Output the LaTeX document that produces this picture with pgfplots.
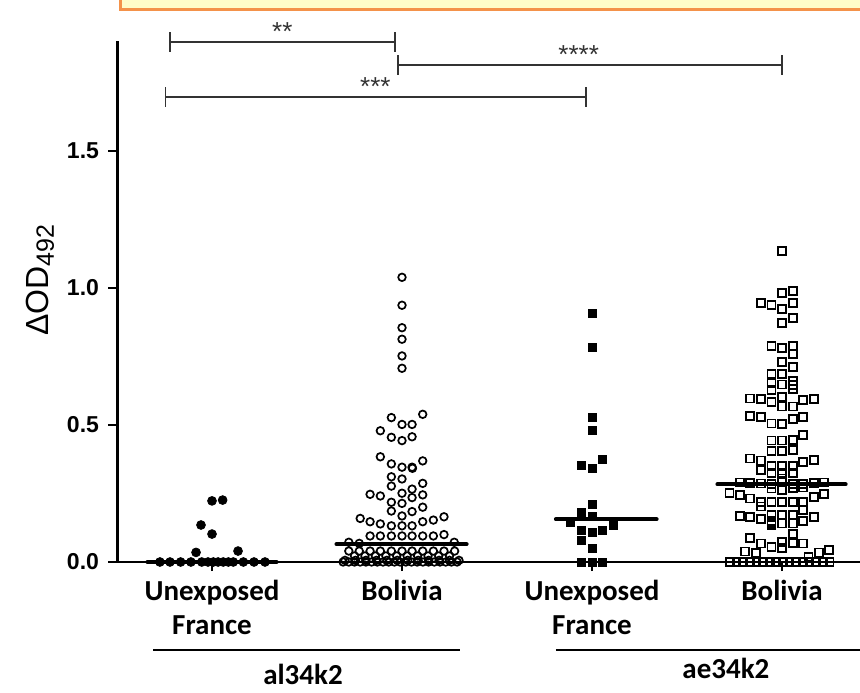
\documentclass[border=0pt]{standalone}
\usepackage{pgfplots}
\pgfplotsset{compat=1.18}
\usepackage{fontspec}
\setmainfont{Liberation Sans}
\newfontfamily\calfont{Carlito}
\definecolor{boxfill}{RGB}{255,252,200}
\definecolor{boxedge}{RGB}{244,146,74}
\begin{document}
\begin{tikzpicture}
\begin{axis}[
  x=95pt, y=137pt,
  xmin=-0.5, xmax=3.41, ymin=0, ymax=1.9,
  clip=false,
  axis x line=bottom, axis y line=left,
  axis line style={-},
  x axis line style={line width=1.2pt},
  y axis line style={line width=1.5pt},
  tick align=outside,
  major tick length=4.5pt,
  tick style={line width=1.2pt, black},
  ytick={0,0.5,1,1.5},
  xtick={0,1,2,3},
  xticklabels={Unexposed\\France, Bolivia, Unexposed\\France, Bolivia},
  xticklabel style={align=center, font=\calfont\bfseries\fontsize{14.5}{17}\selectfont, yshift=-1pt},
  yticklabel style={font=\bfseries\fontsize{11.5}{12}\selectfont, xshift=-1pt},
  /pgf/number format/.cd, fixed, fixed zerofill, precision=1, assume math mode=true,
]
% group 1: al34k2, unexposed France
\addplot[only marks, mark=*, mark size=2.2pt, black] coordinates {
(0.000,0.223) (0.056,0.226) (-0.058,0.135) (0.000,0.102) (-0.084,0.035) (0.137,0.040)
(-0.274,0) (-0.221,0) (-0.165,0) (-0.111,0) (-0.054,0) (-0.021,0) (0.007,0)
(0.032,0) (0.059,0) (0.086,0) (0.112,0) (0.165,0) (0.221,0) (0.279,0)
};
% group 2: al34k2, Bolivia
\addplot[only marks, mark=o, mark size=1.9pt, mark options={line width=0.85pt}, black] coordinates {
(1,1.039) (1,0.937) (1,0.855) (1,0.813) (1,0.752) (1,0.707)
(0.944,0.527) (1,0.502) (1.053,0.502) (1.109,0.539)
(0.886,0.479) (0.944,0.455) (1,0.443) (1.053,0.457)
(0.886,0.384) (0.944,0.358) (1,0.346) (1.053,0.346) (1.055,0.342) (1.109,0.369)
(0.944,0.311) (1,0.303) (0.944,0.277) (1.053,0.266) (1.109,0.287)
(0.832,0.247) (0.886,0.241) (1,0.251) (1.053,0.235) (1.109,0.245)
(0.944,0.218) (1,0.214) (0.944,0.186) (1.053,0.184) (1.109,0.200) (1,0.168)
(0.780,0.159) (0.832,0.147) (0.886,0.139) (0.944,0.132) (1,0.132) (1.053,0.132)
(1.109,0.147) (1.165,0.153) (1.221,0.165)
(0.832,0.095) (0.886,0.095) (0.944,0.095) (1,0.095) (1.053,0.095) (1.109,0.095)
(1.165,0.095) (1.221,0.100)
(0.720,0.072) (0.775,0.068) (1.275,0.072)
(0.720,0.040) (0.775,0.040) (0.832,0.040) (0.886,0.040) (0.944,0.040) (1,0.040)
(1.053,0.040) (1.109,0.040) (1.165,0.040) (1.221,0.040) (1.277,0.040)
(0.750,0.022) (0.805,0.022) (0.860,0.022) (0.915,0.022) (0.972,0.022) (1.027,0.022)
(1.082,0.022) (1.137,0.022) (1.193,0.022) (1.250,0.022)
(0.700,0.006) (0.755,0.006) (0.810,0.006) (0.865,0.006) (0.920,0.006) (0.975,0.006)
(1.030,0.006) (1.085,0.006) (1.140,0.006) (1.195,0.006) (1.250,0.006) (1.300,0.006)
(0.690,0) (0.720,0) (0.750,0) (0.780,0) (0.810,0) (0.840,0) (0.870,0) (0.900,0)
(0.930,0) (0.960,0) (0.990,0) (1.020,0) (1.050,0) (1.080,0) (1.110,0) (1.140,0)
(1.170,0) (1.200,0) (1.230,0) (1.260,0) (1.290,0)
};
% group 3: ae34k2, unexposed France
\addplot[only marks, mark=square*, mark size=2pt, black] coordinates {
(2,0.907) (2,0.782) (2,0.528) (2,0.482) (1.942,0.354) (2,0.342) (2.056,0.375)
(2,0.211) (1.942,0.181) (2,0.168) (1.888,0.145) (2.110,0.135) (1.942,0.114)
(2,0.108) (2.056,0.114) (1.942,0.077) (2,0.050) (1.942,0) (2,0) (2.056,0)
};
% group 4: ae34k2, Bolivia
\addplot[only marks, mark=square, mark size=2pt, mark options={line width=0.85pt}, black] coordinates {
(3,1.136) (3,0.983) (3.056,0.990) (2.890,0.946) (2.944,0.939) (3,0.923) (3.056,0.944)
(3,0.873) (3.056,0.891)
(2.944,0.789) (3,0.782) (3.056,0.789) (3.056,0.759) (3,0.729) (3.056,0.712)
(2.944,0.686) (3,0.686) (2.944,0.654) (3,0.648) (3.056,0.660) (3.056,0.645)
(3.056,0.632) (2.944,0.628)
(2.833,0.597) (2.890,0.594) (2.944,0.585) (3,0.603) (3,0.567) (3.056,0.567)
(3.111,0.591) (3.167,0.594)
(2.833,0.533) (2.890,0.530) (2.944,0.506) (3,0.504) (3.056,0.521) (3.111,0.528)
(3.111,0.464) (2.944,0.443) (3,0.443) (3.056,0.445)
(2.944,0.406) (3,0.406) (3.056,0.409)
(2.833,0.378) (2.890,0.370) (2.944,0.350) (3,0.350) (3.056,0.350) (3.111,0.366) (3.167,0.372)
(2.890,0.336) (2.944,0.324) (3,0.324) (3.056,0.324) (3,0.305)
(2.780,0.290) (2.833,0.288) (2.890,0.286) (2.944,0.285) (3,0.292) (3.056,0.285)
(3.111,0.284) (3.167,0.288) (3.220,0.290)
(2.944,0.268) (3,0.262) (3.056,0.270) (3.111,0.272)
(2.723,0.253) (2.779,0.245) (2.833,0.232) (2.890,0.220) (2.890,0.202) (2.944,0.220)
(3,0.220) (3.056,0.220) (3.111,0.220) (3.167,0.238) (3.221,0.248) (3.111,0.190)
(2.779,0.169) (2.833,0.165) (2.890,0.156) (2.944,0.172) (3,0.172) (3.056,0.172)
(2.944,0.150) (2.944,0.142) (2.944,0.135) (3,0.141) (3.056,0.141) (3.111,0.150) (3.167,0.165)
(2.833,0.087) (2.890,0.068) (2.944,0.054) (3,0.074) (3,0.050) (3.056,0.102)
(3.056,0.070) (3.111,0.068)
(2.807,0.038) (2.863,0.032) (3.139,0.017) (3.193,0.035) (3.249,0.044)
(2.725,0) (2.760,0) (2.795,0) (2.830,0) (2.865,0) (2.900,0) (2.935,0) (2.970,0)
(3.005,0) (3.040,0) (3.075,0) (3.110,0) (3.145,0) (3.180,0) (3.215,0) (3.250,0)
};
% medians
\addplot[line width=2pt, line cap=round, black] coordinates {(-0.34,0) (0.34,0)};
\addplot[line width=2pt, line cap=round, black] coordinates {(0.655,0.065) (1.340,0.065)};
\addplot[line width=2pt, line cap=round, black] coordinates {(1.810,0.156) (2.340,0.156)};
\addplot[line width=2pt, line cap=round, black] coordinates {(2.660,0.283) (3.335,0.283)};
% significance brackets
\begin{scope}[black!80, line width=0.9pt]
\draw (axis cs:-0.22,1.862) -- (axis cs:-0.22,1.934) (axis cs:-0.22,1.898) -- (axis cs:0.963,1.898) (axis cs:0.963,1.862) -- (axis cs:0.963,1.934);
\draw (axis cs:0.98,1.778) -- (axis cs:0.98,1.850) (axis cs:0.98,1.814) -- (axis cs:3.0,1.814) (axis cs:3.0,1.778) -- (axis cs:3.0,1.850);
\draw (axis cs:-0.245,1.661) -- (axis cs:-0.245,1.733) (axis cs:-0.245,1.697) -- (axis cs:1.97,1.697) (axis cs:1.97,1.661) -- (axis cs:1.97,1.733);
\end{scope}
\node[font=\fontsize{13}{13}\selectfont, anchor=base, black!80] at (axis cs:0.37,1.903) {**};
\node[font=\fontsize{13}{13}\selectfont, anchor=base, black!80] at (axis cs:1.93,1.819) {****};
\node[font=\fontsize{13}{13}\selectfont, anchor=base, black!80] at (axis cs:0.86,1.702) {***};
% y label
\node[rotate=90, font=\fontsize{16}{16}\selectfont] at (axis cs:-0.905,1.03) {ΔOD\textsubscript{\fontsize{12.5}{12.5}\selectfont 492}};
% group labels
\draw[line width=1.2pt] (axis cs:-0.31,-0.321) -- (axis cs:1.305,-0.321);
\draw[line width=1.2pt] (axis cs:1.81,-0.321) -- (axis cs:3.62,-0.321);
\node[font=\calfont\bfseries\fontsize{14.5}{14.5}\selectfont] at (axis cs:0.479,-0.41) {al34k2};
\node[font=\calfont\bfseries\fontsize{14.5}{14.5}\selectfont] at (axis cs:2.705,-0.39) {ae34k2};
% top box
\draw[boxedge, fill=boxfill, line width=1.5pt] (axis cs:-0.484,2.124) rectangle (axis cs:3.62,2.018);
\coordinate (BL) at (axis cs:-1.1158,-0.4745);
\coordinate (TR) at (axis cs:3.4105,2.0511);
\end{axis}
\pgfresetboundingbox
\path[use as bounding box] (BL) rectangle (TR);
\end{tikzpicture}
\end{document}
